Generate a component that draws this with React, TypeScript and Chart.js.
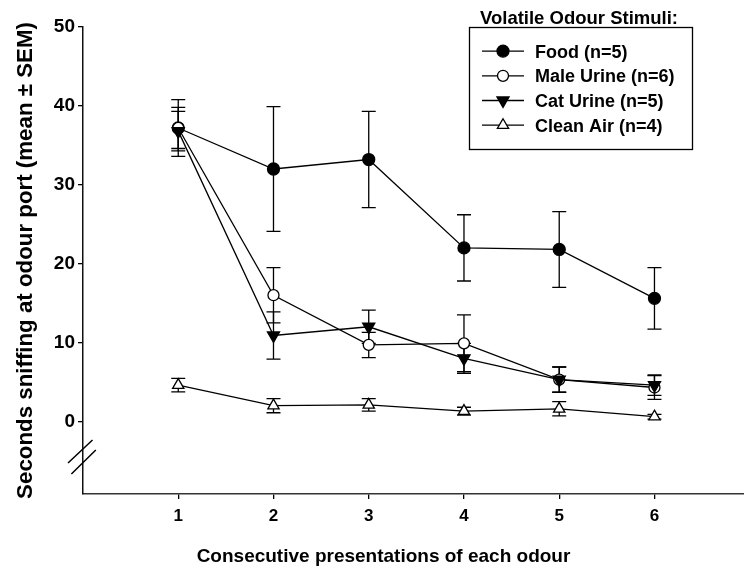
import React, { useEffect, useRef } from 'react';
import { Chart, registerables } from 'chart.js';
import { drawPoint } from 'chart.js/helpers';

Chart.register(...registerables);

const FONT = '"Liberation Sans", Arial, Helvetica, sans-serif';

const presentations = [1, 2, 3, 4, 5, 6];
const xTickValues = [1, 2, 3, 4, 5, 6];
const yTickValues = [0, 10, 20, 30, 40, 50];

const seriesLabels = ['Food (n=5)', 'Male Urine (n=6)', 'Cat Urine (n=5)', 'Clean Air (n=4)'];

const foodMean = [37.2, 32.0, 33.2, 22.0, 21.8, 15.6];
const foodSem = [3.6, 7.9, 6.1, 4.2, 4.8, 3.9];
const maleMean = [37.2, 16.0, 9.7, 9.9, 5.3, 4.3];
const maleSem = [2.6, 3.5, 1.6, 3.6, 1.6, 1.5];
const catMean = [36.8, 10.9, 12.0, 8.0, 5.3, 4.6];
const catSem = [2.5, 3.0, 2.1, 1.9, 1.6, 1.3];
const airMean = [4.6, 2.0, 2.1, 1.3, 1.6, 0.6];
const airSem = [0.85, 0.9, 0.8, 0.5, 0.9, 0.3];

const legendTitle = 'Volatile Odour Stimuli:';
const xTitle = 'Consecutive presentations of each odour';
const yTitle = 'Seconds sniffing at odour port (mean \u00B1 SEM)';

export default function App() {
  const ref = useRef<HTMLCanvasElement>(null);

  useEffect(() => {
    const canvas = ref.current;
    if (!canvas) return;
    const means = [foodMean, maleMean, catMean, airMean];
    const sems = [foodSem, maleSem, catSem, airSem];
    const mk = (m: number[]) => presentations.map((x, i) => ({ x, y: m[i] }));
    const common = {
      borderColor: '#000',
      borderWidth: 1.3,
      tension: 0,
      pointBorderColor: '#000',
      pointBorderWidth: 1.3,
      fill: false,
    };
    const datasets: any[] = [
      { label: seriesLabels[0], data: mk(foodMean), pointStyle: 'circle', pointRadius: 6, pointRotation: 0, pointBackgroundColor: '#000', order: 3, ...common },
      { label: seriesLabels[1], data: mk(maleMean), pointStyle: 'circle', pointRadius: 5.5, pointRotation: 0, pointBackgroundColor: '#fff', order: 2, ...common },
      { label: seriesLabels[2], data: mk(catMean), pointStyle: 'triangle', pointRadius: 7, pointRotation: 180, pointBackgroundColor: '#000', order: 1, ...common },
      { label: seriesLabels[3], data: mk(airMean), pointStyle: 'triangle', pointRadius: 6.5, pointRotation: 0, pointBackgroundColor: '#fff', order: 0, ...common },
    ];

    const errorBars = {
      id: 'errorBars',
      beforeDatasetsDraw(chart: any) {
        const { ctx, scales } = chart;
        const xs = scales.x;
        const ys = scales.y;
        ctx.save();
        ctx.strokeStyle = '#000';
        ctx.lineWidth = 1.3;
        means.forEach((m, s) => {
          m.forEach((v, i) => {
            const px = xs.getPixelForValue(presentations[i]);
            const t = ys.getPixelForValue(v + sems[s][i]);
            const b = ys.getPixelForValue(v - sems[s][i]);
            ctx.beginPath();
            ctx.moveTo(px, t);
            ctx.lineTo(px, b);
            ctx.moveTo(px - 7, t);
            ctx.lineTo(px + 7, t);
            ctx.moveTo(px - 7, b);
            ctx.lineTo(px + 7, b);
            ctx.stroke();
          });
        });
        ctx.restore();
      },
    };

    const extras = {
      id: 'extras',
      afterDraw(chart: any) {
        const { ctx, chartArea } = chart;
        const L = chartArea.left;
        ctx.save();
        // axis break
        ctx.strokeStyle = '#000';
        ctx.lineWidth = 1.5;
        ctx.beginPath();
        ctx.moveTo(L - 15, 463);
        ctx.lineTo(L + 9.5, 440);
        ctx.moveTo(L - 11.6, 474);
        ctx.lineTo(L + 12.8, 450);
        ctx.stroke();

        // x title
        ctx.fillStyle = '#000';
        ctx.font = `bold 19px ${FONT}`;
        ctx.textAlign = 'center';
        ctx.textBaseline = 'alphabetic';
        ctx.fillText(xTitle, 383.5, 561.5);

        // legend
        ctx.font = `bold 18.5px ${FONT}`;
        ctx.fillText(legendTitle, 579, 23.5);
        ctx.font = `bold 18px ${FONT}`;
        ctx.lineWidth = 1.3;
        ctx.strokeRect(469.5, 27.5, 223, 122);
        ctx.textAlign = 'left';
        chart.data.datasets.forEach((ds: any, i: number) => {
          const base = 57.5 + i * 24.7;
          const my = base - 6.4;
          ctx.strokeStyle = '#000';
          ctx.lineWidth = 1.3;
          ctx.beginPath();
          ctx.moveTo(482, my);
          ctx.lineTo(524, my);
          ctx.stroke();
          ctx.fillStyle = ds.pointBackgroundColor;
          ctx.strokeStyle = ds.pointBorderColor;
          ctx.lineWidth = ds.pointBorderWidth;
          drawPoint(ctx, {
            pointStyle: ds.pointStyle,
            rotation: ds.pointRotation,
            radius: ds.pointRadius,
            borderWidth: ds.pointBorderWidth,
          } as any, 503, my);
          ctx.fillStyle = '#000';
          ctx.fillText(ds.label, 535, base);
        });
        ctx.restore();
      },
    };

    const chart = new Chart(canvas, {
      type: 'line',
      data: { datasets },
      options: {
        animation: false,
        responsive: true,
        maintainAspectRatio: false,
        layout: { autoPadding: false, padding: { top: 27, left: 0, right: 0, bottom: 0 } },
        plugins: {
          legend: { display: false },
          tooltip: { enabled: false },
          title: { display: false },
        },
        scales: {
          x: {
            type: 'linear',
            min: 0,
            max: 6.94,
            afterBuildTicks: (scale: any) => {
              scale.ticks = xTickValues.map((v) => ({ value: v }));
            },
            afterFit: (scale: any) => {
              scale.height = 76;
            },
            grid: { display: true, drawOnChartArea: false, drawTicks: true, tickLength: 5, color: '#000', lineWidth: 1.3 },
            border: { display: true, color: '#333', width: 1.5 },
            ticks: {
              color: '#000',
              font: { family: FONT, size: 17, weight: 'bold' },
              padding: 7,
              maxRotation: 0,
              autoSkip: false,
              callback: (v: any) => String(v),
            },
          },
          y: {
            type: 'linear',
            min: -9.2,
            max: 50,
            afterBuildTicks: (scale: any) => {
              scale.ticks = yTickValues.map((v) => ({ value: v }));
            },
            afterFit: (scale: any) => {
              scale.width = 83;
            },
            grid: { display: true, drawOnChartArea: false, drawTicks: true, tickLength: 5, color: '#000', lineWidth: 1.3 },
            border: { display: true, color: '#111', width: 1.5 },
            ticks: {
              color: '#000',
              font: { family: FONT, size: 19, weight: 'bold' },
              padding: 3,
              autoSkip: false,
              callback: (v: any) => String(v),
            },
            title: {
              display: true,
              text: yTitle,
              color: '#000',
              font: { family: FONT, size: 22.3, weight: 'bold' },
              padding: { top: 12, bottom: 0 },
            },
          },
        },
      },
      plugins: [errorBars, extras],
    } as any);

    return () => chart.destroy();
  }, []);

  return (
    <div style={{ position: 'fixed', left: 0, top: 0, width: 744, height: 570, background: '#fff' }}>
      <canvas ref={ref} />
    </div>
  );
}
